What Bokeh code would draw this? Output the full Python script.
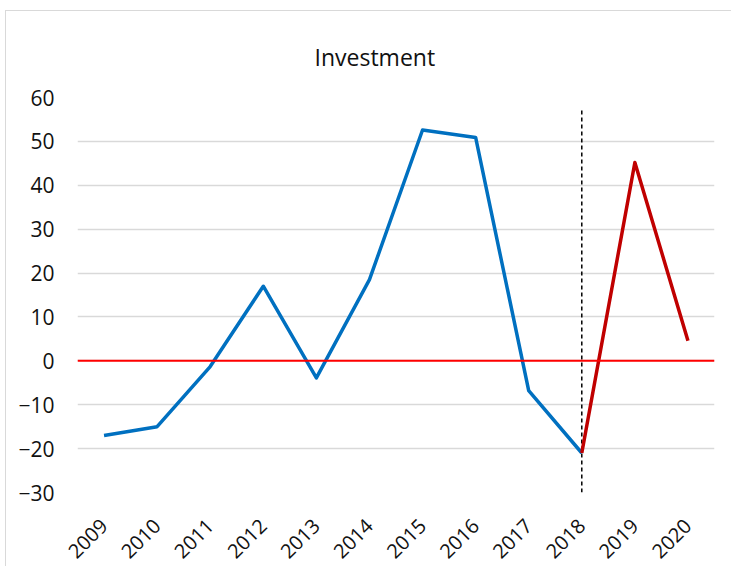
from math import pi
from bokeh.plotting import figure
from bokeh.models import Range1d, FactorRange, Span, FixedTicker
from bokeh.embed import file_html
from bokeh.resources import INLINE

# ---- data ----
years = ["2009", "2010", "2011", "2012", "2013", "2014",
         "2015", "2016", "2017", "2018", "2019", "2020"]
hist_years = ["2009", "2010", "2011", "2012", "2013", "2014",
              "2015", "2016", "2017", "2018"]
hist_values = [-17.0, -15.0, -1.3, 17.0, -3.9, 18.5, 52.6, 50.9, -6.8, -21.0]
fcst_years = ["2018", "2019", "2020"]
fcst_values = [-21.0, 45.2, 4.6]
y_ticks = [-30, -20, -10, 0, 10, 20, 30, 40, 50, 60]
divider_year = "2018"
title_text = "Investment"

FONT = "Open Sans"

p = figure(width=726, height=556, title=title_text,
           x_range=FactorRange(*years), y_range=Range1d(-30, 60),
           output_backend="svg", toolbar_location=None,
           min_border_left=71, min_border_right=18,
           min_border_top=86, min_border_bottom=74)
p.title.align = "left"
p.title.offset = 237
p.title.standoff = 50
p.title.text_font = FONT
p.title.text_font_size = "23px"
p.title.text_font_style = "normal"
p.title.text_color = "#111111"
p.outline_line_color = None
p.background_fill_color = "white"
p.border_fill_color = "white"
p.styles = {"border-left": "1px solid #d9d9d9", "border-top": "1px solid #d9d9d9",
            "margin-left": "5px", "margin-top": "10px"}

# grid
p.xgrid.grid_line_color = None
p.ygrid.grid_line_color = "#d9d9d9"
p.ygrid.grid_line_width = 1.3
p.yaxis.ticker = FixedTicker(ticks=y_ticks)

# axes
for ax in (p.xaxis, p.yaxis):
    ax.axis_line_color = None
    ax.major_tick_line_color = None
    ax.minor_tick_line_color = None
    ax.major_label_text_font = FONT
    ax.major_label_text_font_size = "20px"
    ax.major_label_text_color = "#111111"
p.yaxis.major_label_text_font_size = "21px"
p.yaxis.major_label_standoff = 17
p.xaxis.major_label_standoff = 24
p.xaxis.major_label_orientation = pi / 4

# zero line
p.add_layout(Span(location=0, dimension="width", line_color="#FF0000", line_width=2))

# divider dashed line
p.segment(x0=[divider_year], y0=[-30], x1=[divider_year], y1=[57.7],
          line_color="black", line_width=1.5, line_dash="4 3")

# series
p.line(hist_years, hist_values, line_color="#0070C0", line_width=3.5, line_join="round")
p.line(fcst_years, fcst_values, line_color="#C00000", line_width=3.5, line_join="round")

open("out.html", "w").write(file_html(p, INLINE))
